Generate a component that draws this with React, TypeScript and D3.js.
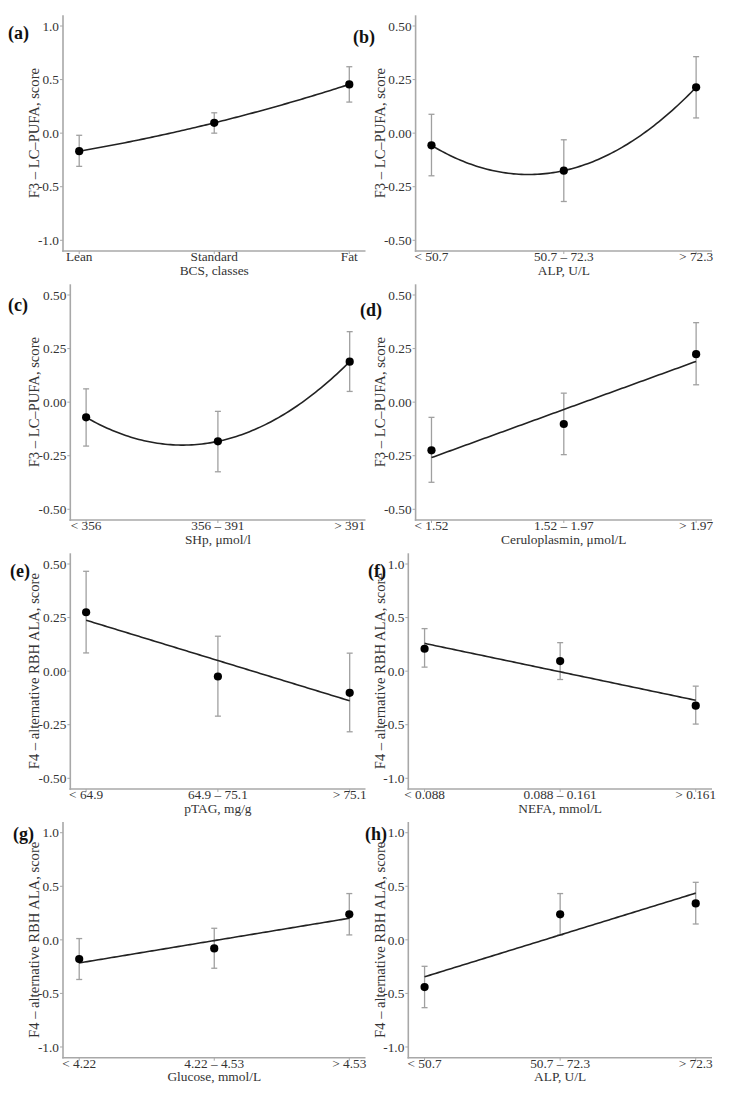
import React from "react";
import * as d3 from "d3";

// ---------- data ----------
const panelTags = ["(a)", "(b)", "(c)", "(d)", "(e)", "(f)", "(g)", "(h)"];

const catsBCS = ["Lean", "Standard", "Fat"];
const catsALP = ["< 50.7", "50.7 – 72.3", "> 72.3"];
const catsSHp = ["< 356", "356 – 391", "> 391"];
const catsCp = ["< 1.52", "1.52 – 1.97", "> 1.97"];
const catsTAG = ["< 64.9", "64.9 – 75.1", "> 75.1"];
const catsNEFA = ["< 0.088", "0.088 – 0.161", "> 0.161"];
const catsGlu = ["< 4.22", "4.22 – 4.53", "> 4.53"];

const xTitles = [
  "BCS, classes",
  "ALP, U/L",
  "SHp, μmol/l",
  "Ceruloplasmin, μmol/L",
  "pTAG, mg/g",
  "NEFA, mmol/L",
  "Glucose, mmol/L",
  "ALP, U/L",
];
const yTitleF3 = "F3 – LC–PUFA, score";
const yTitleF4 = "F4 – alternative RBH ALA, score";

const ticksWide = [-1, -0.5, 0, 0.5, 1];
const ticksNarrow = [-0.5, -0.25, 0, 0.25, 0.5];

// means, lower and upper error limits
const meanA = [-0.168, 0.096, 0.455];
const lowA = [-0.31, 0.0, 0.29];
const highA = [-0.02, 0.19, 0.62];

const meanB = [-0.057, -0.175, 0.214];
const lowB = [-0.199, -0.319, 0.071];
const highB = [0.088, -0.031, 0.357];

const meanC = [-0.071, -0.183, 0.189];
const lowC = [-0.205, -0.325, 0.05];
const highC = [0.062, -0.043, 0.329];

const meanD = [-0.225, -0.102, 0.224];
const lowD = [-0.374, -0.245, 0.081];
const highD = [-0.071, 0.042, 0.371];

const meanE = [0.275, -0.025, -0.101];
const lowE = [0.085, -0.21, -0.283];
const highE = [0.466, 0.163, 0.084];

const meanF = [0.209, 0.094, -0.322];
const lowF = [0.0375, -0.078, -0.494];
const highF = [0.397, 0.266, -0.14];

const meanG = [-0.179, -0.08, 0.238];
const lowG = [-0.37, -0.265, 0.046];
const highG = [0.012, 0.108, 0.432];

const meanH = [-0.441, 0.238, 0.34];
const lowH = [-0.633, 0.046, 0.148];
const highH = [-0.247, 0.432, 0.537];

const fitKinds = ["quad", "quad", "quad", "lin", "lin", "lin", "lin", "lin"];

// ---------- layout ----------
const FONT = "'Liberation Serif', 'Times New Roman', serif";
const rowTops = [15.3, 284.3, 553.3, 822];
const plotH = 235.7;
const colLeftBase = [63, 408.3];
const colRight = [365.5, 712];
const narrowShift = 7.3;
const tagPos = [
  [8, 38.5],
  [353, 43],
  [8, 310.5],
  [360, 316],
  [10, 577],
  [368, 577],
  [13, 840],
  [365, 840],
];
const yTitleX = [39, 384.5];

const panels = [
  { cats: catsBCS, mean: meanA, low: lowA, high: highA, ticks: ticksWide, yTitle: yTitleF3 },
  { cats: catsALP, mean: meanB, low: lowB, high: highB, ticks: ticksNarrow, yTitle: yTitleF3 },
  { cats: catsSHp, mean: meanC, low: lowC, high: highC, ticks: ticksNarrow, yTitle: yTitleF3 },
  { cats: catsCp, mean: meanD, low: lowD, high: highD, ticks: ticksNarrow, yTitle: yTitleF3 },
  { cats: catsTAG, mean: meanE, low: lowE, high: highE, ticks: ticksNarrow, yTitle: yTitleF4 },
  { cats: catsNEFA, mean: meanF, low: lowF, high: highF, ticks: ticksWide, yTitle: yTitleF4 },
  { cats: catsGlu, mean: meanG, low: lowG, high: highG, ticks: ticksWide, yTitle: yTitleF4 },
  { cats: catsALP, mean: meanH, low: lowH, high: highH, ticks: ticksWide, yTitle: yTitleF4 },
];

function fitFn(kind: string, m: number[]) {
  if (kind === "quad") {
    return (x: number) =>
      (m[0] * (x - 2) * (x - 3)) / 2 - m[1] * (x - 1) * (x - 3) + (m[2] * (x - 1) * (x - 2)) / 2;
  }
  const avg = d3.mean(m) as number;
  const slope = (m[2] - m[0]) / 2;
  return (x: number) => avg + slope * (x - 2);
}

const AXIS_COLOR = "#a8a8a8";
const TEXT_COLOR = "#333";

function Panel({ idx }: { idx: number }) {
  const p = panels[idx];
  const col = idx % 2;
  const row = Math.floor(idx / 2);
  const wide = p.ticks === ticksWide;
  const left = colLeftBase[col] + (wide ? 0 : narrowShift);
  const right = colRight[col];
  const top = rowTops[row];
  const bottom = top + plotH;
  const ext = wide ? 1.1 : 0.55;
  const y = d3.scaleLinear().domain([-ext, ext]).range([bottom, top]);
  const pad = 0.12;
  const x = d3.scaleLinear().domain([1 - pad, 3 + pad]).range([left, right]);
  const fmt = (v: number) => d3.format(wide ? ".1f" : ".2f")(v).replace("−", "-");
  const f = fitFn(fitKinds[idx], p.mean);
  const xs = d3.range(1, 3.0001, 0.02);
  const line = d3
    .line<number>()
    .x((d) => x(d))
    .y((d) => y(f(d)))(xs);
  const cy = (top + bottom) / 2;
  return (
    <g>
      {/* axes */}
      <line x1={left} x2={left} y1={top} y2={bottom + 0.8} stroke={AXIS_COLOR} strokeWidth={1.6} />
      <line x1={left - 0.8} x2={right} y1={bottom} y2={bottom} stroke={AXIS_COLOR} strokeWidth={1.6} />
      {p.ticks.map((t) => (
        <g key={"yt" + t}>
          <line x1={left - 3} x2={left} y1={y(t)} y2={y(t)} stroke={AXIS_COLOR} strokeWidth={1} />
          <text
            x={left - 4}
            y={y(t)}
            dy="0.35em"
            textAnchor="end"
            fontSize={13.3}
            fill={TEXT_COLOR}
            fontFamily={FONT}
          >
            {fmt(t)}
          </text>
        </g>
      ))}
      {p.cats.map((c, i) => (
        <g key={"xt" + i}>
          <line x1={x(i + 1)} x2={x(i + 1)} y1={bottom} y2={bottom + 3} stroke={AXIS_COLOR} strokeWidth={1} />
          <text
            x={x(i + 1)}
            y={bottom + 10}
            textAnchor="middle"
            fontSize={13.3}
            fill={TEXT_COLOR}
            fontFamily={FONT}
          >
            {c}
          </text>
        </g>
      ))}
      <text
        x={(left + right) / 2}
        y={bottom + 23.5}
        textAnchor="middle"
        fontSize={13.4}
        fill={TEXT_COLOR}
        fontFamily={FONT}
      >
        {xTitles[idx]}
      </text>
      <text
        transform={`translate(${yTitleX[col]},${cy}) rotate(-90)`}
        textAnchor="middle"
        fontSize={14.6}
        fill={TEXT_COLOR}
        fontFamily={FONT}
      >
        {p.yTitle}
      </text>
      {/* error bars */}
      {p.mean.map((m, i) => (
        <g key={"eb" + i} stroke="#a0a0a0" strokeWidth={1.3}>
          <line x1={x(i + 1)} x2={x(i + 1)} y1={y(p.low[i])} y2={y(p.high[i])} />
          <line x1={x(i + 1) - 3} x2={x(i + 1) + 3} y1={y(p.low[i])} y2={y(p.low[i])} />
          <line x1={x(i + 1) - 3} x2={x(i + 1) + 3} y1={y(p.high[i])} y2={y(p.high[i])} />
        </g>
      ))}
      {/* fit */}
      <path d={line || ""} fill="none" stroke="#222" strokeWidth={1.6} />
      {/* points */}
      {p.mean.map((m, i) => (
        <circle key={"pt" + i} cx={x(i + 1)} cy={y(m)} r={4.1} fill="#000" />
      ))}
      <text
        x={tagPos[idx][0]}
        y={tagPos[idx][1]}
        fontSize={18}
        fontWeight="bold"
        fill="#111"
        fontFamily={FONT}
      >
        {panelTags[idx]}
      </text>
    </g>
  );
}

export default function App() {
  return (
    <svg
      width={731}
      height={1094}
      style={{ position: "absolute", left: 0, top: 0, background: "#fff" }}
    >
      <rect x={0} y={0} width={731} height={1094} fill="#fff" />
      {panels.map((_, i) => (
        <Panel key={i} idx={i} />
      ))}
    </svg>
  );
}
